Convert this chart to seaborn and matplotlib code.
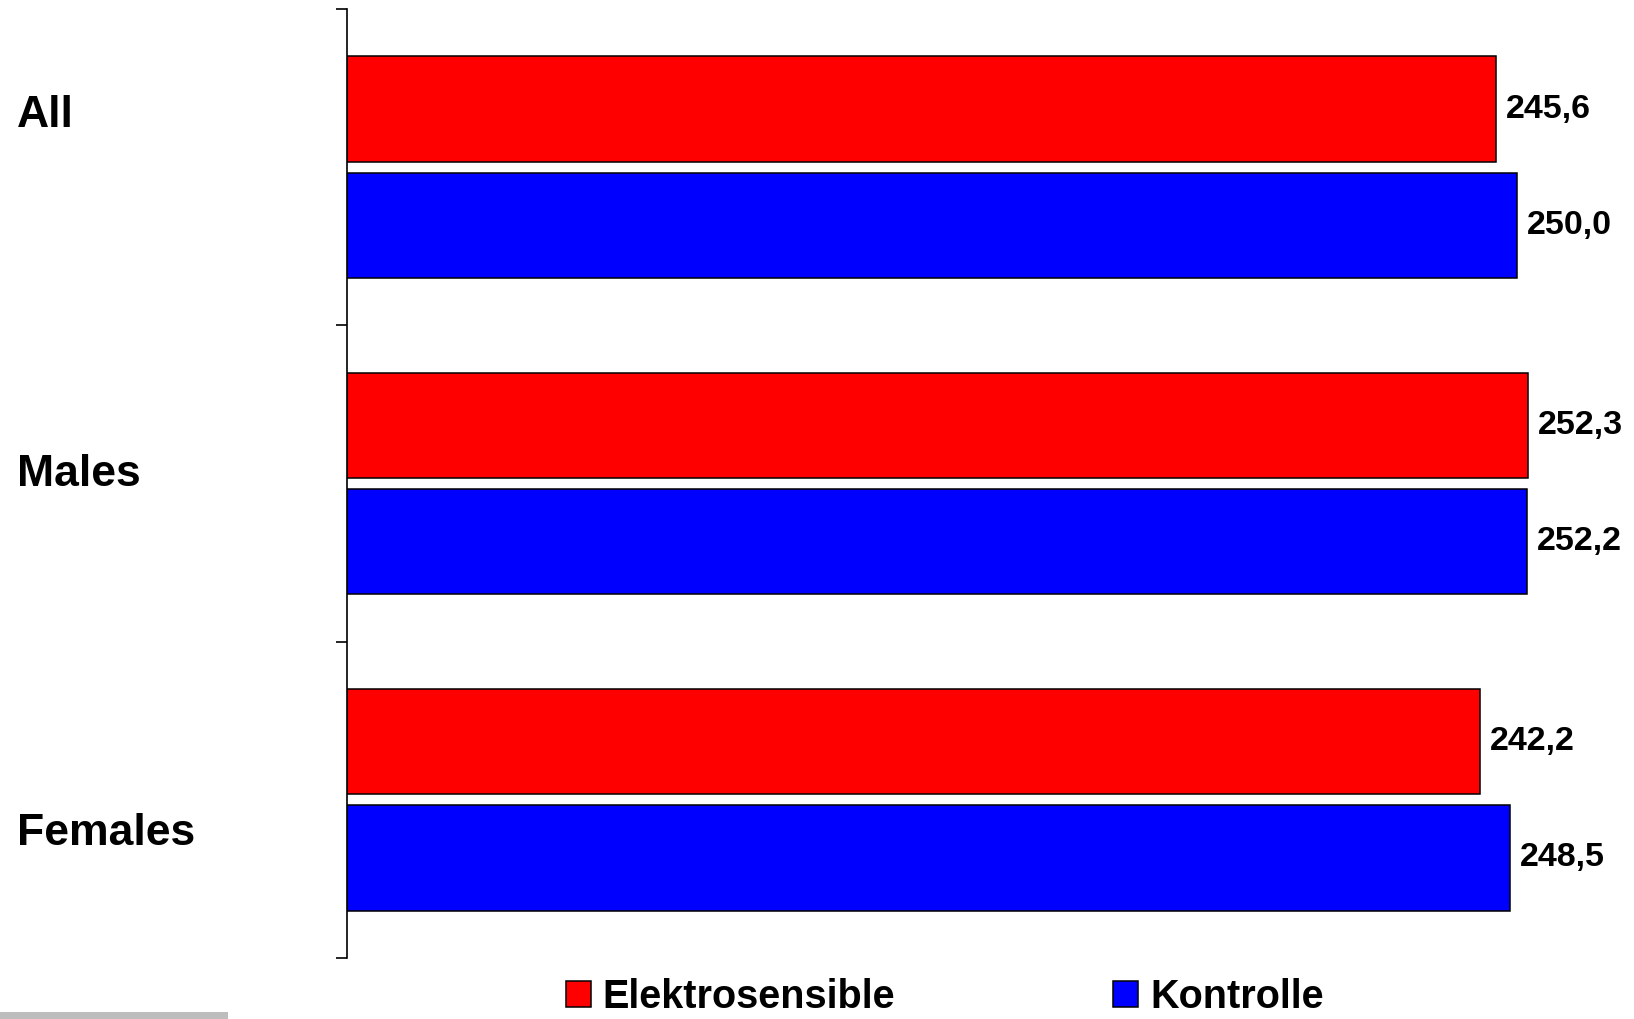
import matplotlib
matplotlib.use("Agg")
import matplotlib.pyplot as plt
import matplotlib.transforms as mtransforms
from matplotlib.patches import Rectangle
import seaborn as sns
import pandas as pd

# Data
groups = ["All", "Males", "Females"]
series = ["Elektrosensible", "Kontrolle"]
elektrosensible = [245.6, 252.3, 242.2]
kontrolle = [250.0, 252.2, 248.5]
colors = ["#ff0000", "#0000ff"]

df = pd.DataFrame({
    "group": groups * 2,
    "series": [series[0]] * len(groups) + [series[1]] * len(groups),
    "value": elektrosensible + kontrolle,
})

sns.set_theme(style="white")
plt.rcParams["font.family"] = ["Liberation Sans", "DejaVu Sans"]
plt.rcParams["font.weight"] = "bold"
plt.rcParams["text.color"] = "black"

W, H = 1634, 1019
fig = plt.figure(figsize=(W / 100, H / 100), dpi=100)
fig.patch.set_facecolor("white")
ax = fig.add_axes([347 / W, 1 - 958 / H, 1 - 347 / W, (958 - 9) / H])

sns.barplot(
    data=df, y="group", x="value", hue="series",
    order=groups, hue_order=series, palette=colors, saturation=1,
    orient="h", width=0.735, gap=0.095, errorbar=None,
    edgecolor="black", linewidth=1.1, ax=ax,
)

# Value labels with decimal comma
for cont in ax.containers:
    ax.bar_label(
        cont,
        labels=[f"{v:.1f}".replace(".", ",") for v in cont.datavalues],
        padding=7, fontsize=24.5, fontweight="bold", color="black",
    )

ax.set_xlim(0, 275)
ax.set_ylim(len(groups) - 0.5, -0.5)
ax.set_xticks([])
ax.set_yticks([i - 0.5 for i in range(len(groups) + 1)])
ax.set_yticklabels([])
ax.set_xlabel("")
ax.set_ylabel("")
ax.tick_params(axis="y", left=True, direction="out", length=8, width=1.2, color="black")
sns.despine(ax=ax, top=True, right=True, bottom=True)
ax.spines["left"].set_color("black")
ax.spines["left"].set_linewidth(1.2)

# Group names on the left, set on their own baselines
label_shift = [-0.127, 0.008, 0.143]
trans = mtransforms.blended_transform_factory(fig.transFigure, ax.transData)
for i, (g, s) in enumerate(zip(groups, label_shift)):
    ax.text(17 / W, i + s, g, transform=trans, ha="left", va="baseline",
            fontsize=32, fontweight="bold", color="black", clip_on=False)

# Legend along the bottom edge
handles, labels = ax.get_legend_handles_labels()
if ax.legend_ is not None:
    ax.legend_.remove()
fig.legend(
    handles, labels, loc="upper left", bbox_to_anchor=(566 / W, 1 - 978 / H),
    ncol=2, frameon=False, prop={"size": 28.5, "weight": "bold"},
    labelcolor="black",
    handlelength=0.63, handleheight=0.63, handletextpad=0.3,
    columnspacing=5.5, borderpad=0, borderaxespad=0,
)

# Grey strip in the lower-left corner
fig.patches.append(Rectangle((0, 0), 228 / W, 7 / H, transform=fig.transFigure,
                             facecolor="#bdbdbd", edgecolor="none"))

fig.savefig("out.png", dpi=100)
